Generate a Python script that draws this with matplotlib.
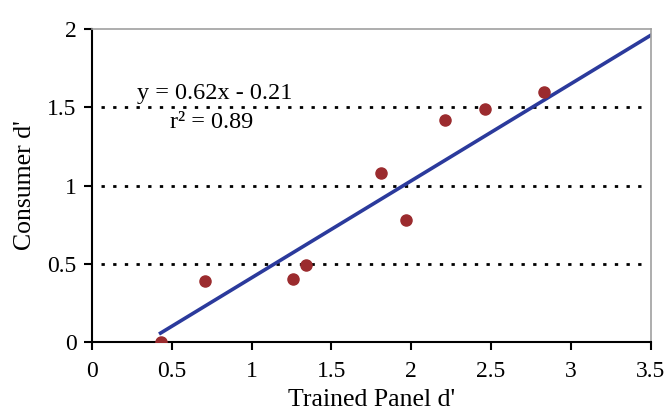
import matplotlib
matplotlib.use("Agg")
import matplotlib.pyplot as plt
import numpy as np

trained = [0.43, 0.71, 1.26, 1.34, 1.81, 1.97, 2.21, 2.46, 2.83]
consumer = [0.00, 0.39, 0.40, 0.49, 1.08, 0.78, 1.42, 1.49, 1.60]
slope, intercept = 0.62, -0.21
fit_range = [0.43, 3.5]
xticks = [0, 0.5, 1, 1.5, 2, 2.5, 3, 3.5]
xticklabels = ["0", "0.5", "1", "1.5", "2", "2.5", "3", "3.5"]
yticks = [0, 0.5, 1, 1.5, 2]
yticklabels = ["0", "0.5", "1", "1.5", "2"]
gridlevels = [0.5, 1.0, 1.5]

plt.rcParams['font.family'] = ['Liberation Serif', 'DejaVu Serif']

fig = plt.figure(figsize=(6.66, 4.15), dpi=100)
ax = fig.add_axes([0.138, 0.176, 0.839, 0.754])

for g in gridlevels:
    ax.plot([0.06, 3.44], [g, g], color='black', linestyle=(0, (1.2, 3.0)), linewidth=2.0, zorder=1)

xf = np.array(fit_range)
ax.plot(xf, slope * xf + intercept, color='#2B3A9C', linewidth=2.6, zorder=2)
ax.plot(trained, consumer, linestyle='none', marker='o', markersize=8,
        color='#9B2B2E', markeredgecolor='#9B2B2E', zorder=3)

ax.text(0.77, 1.585, "y = 0.62x - 0.21", ha='center', va='center', fontsize=17.5)
ax.text(0.75, 1.40, "r² = 0.89", ha='center', va='center', fontsize=17.5)

ax.set_xlim(0, 3.5)
ax.set_ylim(0, 2)
ax.set_xticks(xticks)
ax.set_xticklabels(xticklabels)
ax.set_yticks(yticks)
ax.set_yticklabels(yticklabels)
ax.tick_params(direction='out', length=6, width=1.5, labelsize=17)
ax.tick_params(axis='x', pad=8)
ax.tick_params(axis='y', pad=5)

for s in ['left', 'bottom']:
    ax.spines[s].set_color('black')
    ax.spines[s].set_linewidth(1.5)
for s in ['top', 'right']:
    ax.spines[s].set_color('#A0A0A0')
    ax.spines[s].set_linewidth(1.2)

ax.set_xlabel("Trained Panel d'", fontsize=18.5, labelpad=5)
ax.set_ylabel("Consumer d'", fontsize=18.5, labelpad=8)

fig.savefig("out.png", dpi=100)
